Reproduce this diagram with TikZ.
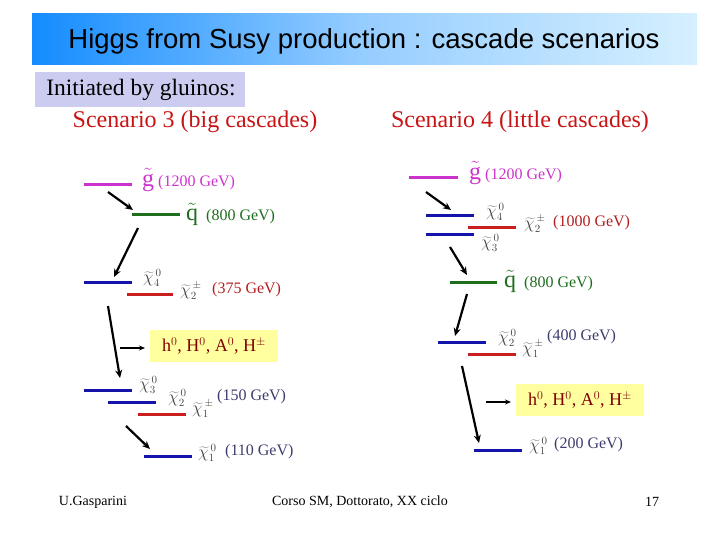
\documentclass[tikz,border=0pt]{standalone}
\usepackage{fontspec}
\setmainfont{Liberation Serif}
\newfontfamily\arialfont{Liberation Sans}
\usetikzlibrary{arrows.meta}
\definecolor{gmag}{RGB}{204,51,204}
\definecolor{qgreen}{RGB}{30,110,30}
\definecolor{lblue}{RGB}{20,20,170}
\definecolor{lred}{RGB}{200,30,30}
\definecolor{dred}{RGB}{180,30,30}
\definecolor{scred}{RGB}{200,20,20}
\definecolor{bgray}{RGB}{60,60,110}
\definecolor{chigray}{RGB}{70,70,70}
\definecolor{higgsbox}{RGB}{255,255,160}
\definecolor{higgstxt}{RGB}{128,0,0}
\definecolor{lav}{RGB}{204,204,240}
\tikzset{
  lvl/.style={line width=3pt},
  arr/.style={-{Stealth[length=8pt,width=7pt]}, line width=2.2pt},
  sarr/.style={-{Stealth[length=6pt,width=5pt]}, line width=1.6pt},
  lbl/.style={anchor=west, inner sep=0pt, font=\fontsize{16}{16}\selectfont},
  chil/.style={anchor=west, inner sep=0pt, text=chigray, font=\fontsize{16}{16}\selectfont},
  higgs/.style={fill=higgsbox, text=higgstxt, inner sep=0pt, font=\fontsize{18}{18}\selectfont},
}
\newcommand{\gt}{{\fontsize{24}{24}\selectfont$\tilde{\mathrm{g}}$}}
\newcommand{\qt}{{\fontsize{24}{24}\selectfont$\tilde{\mathrm{q}}$}}
\newcommand{\chin}[1]{$\widetilde{\chi}^{\,0}_{#1}$}
\newcommand{\chic}[1]{$\widetilde{\chi}^{\,\pm}_{#1}$}
\begin{document}
\begin{tikzpicture}[x=1pt,y=-1pt]
\useasboundingbox (0,0) rectangle (720,540);
% title band
\shade[left color={rgb,255:red,20;green,140;blue,255}, right color={rgb,255:red,214;green,240;blue,255}, middle color={rgb,255:red,150;green,205;blue,255}] (32,14) rectangle (697,65);
\node (title) at (364,41) {\arialfont\fontsize{27.5}{28}\selectfont Higgs from Susy production : cascade scenarios};
% initiated box
\fill[lav] (35,72) rectangle (245,107);
\node (init) at (141,90) {\fontsize{23.5}{24}\selectfont Initiated by gluinos:};
\node[text=scred] (sc3) at (195,122) {\fontsize{24}{24}\selectfont Scenario 3 (big cascades)};
\node[text=scred] (sc4) at (520,122) {\fontsize{24}{24}\selectfont Scenario 4 (little cascades)};

% ---------------- Left: scenario 3
\draw[lvl,gmag] (84,185) -- (132,185);
\node[lbl,text=gmag] (lg) at (142,180) {\gt\ (1200 GeV)};
\draw[lvl,qgreen] (132,215) -- (180,215);
\node[lbl,text=qgreen] (lq) at (186,214) {\qt\ \ (800 GeV)};
\draw[lvl,lblue] (84,282) -- (132,282);
\draw[lvl,lred] (127,294) -- (173,294);
\node[chil] (lc4) at (143,278) {\chin4};
\node[chil] (lcc2) at (180,291) {\chic2};
\node[lbl,text=dred] (l375) at (212,290) {(375 GeV)};
\node[higgs, minimum width=128pt, minimum height=32pt] (lh) at (214,346) {h$^0$, H$^0$, A$^0$, H$^\pm$\hspace{8pt}};
\draw[lvl,lblue] (84,390) -- (132,390);
\draw[lvl,lblue] (108,402) -- (156,402);
\draw[lvl,lred] (138,414) -- (186,414);
\node[chil] (lc3) at (139,385) {\chin3};
\node[chil] (lc2) at (168,398) {\chin2};
\node[chil] (lcc1) at (192,409) {\chic1};
\node[lbl,text=bgray] (l150) at (217,397) {(150 GeV)};
\draw[lvl,lblue] (144,456) -- (192,456);
\node[chil] (lc1) at (198,453) {\chin1};
\node[lbl,text=bgray] (l110) at (225,452) {(110 GeV)};
% left arrows
\coordinate (la1s) at (108,192); \coordinate (la1e) at (133,210);
\coordinate (la2s) at (138,228); \coordinate (la2e) at (114,277);
\coordinate (la3s) at (108,306); \coordinate (la3e) at (120,378);
\coordinate (la4s) at (120,348); \coordinate (la4e) at (145,348);
\coordinate (la5s) at (126,426); \coordinate (la5e) at (150,449);
\draw[arr] (la1s) -- (la1e);
\draw[arr] (la2s) -- (la2e);
\draw[arr] (la3s) -- (la3e);
\draw[sarr] (la4s) -- (la4e);
\draw[arr] (la5s) -- (la5e);

% ---------------- Right: scenario 4
\draw[lvl,gmag] (409,178) -- (458,178);
\node[lbl,text=gmag] (rg) at (469,173) {\gt\ (1200 GeV)};
\draw[lvl,lblue] (426,216) -- (474,216);
\draw[lvl,lblue] (426,234) -- (474,234);
\draw[lvl,lred] (468,228) -- (516,228);
\node[chil] (rc4) at (486,212) {\chin4};
\node[chil] (rc3) at (481,243) {\chin3};
\node[chil] (rcc2) at (524,224) {\chic2};
\node[lbl,text=dred] (r1000) at (553,223) {(1000 GeV)};
\draw[lvl,qgreen] (450,282) -- (497,282);
\node[lbl,text=qgreen] (rq) at (504,281) {\qt\ \ (800 GeV)};
\draw[lvl,lblue] (438,342) -- (486,342);
\draw[lvl,lred] (468,354) -- (516,354);
\node[chil] (rc2) at (498,338) {\chin2};
\node[chil] (rcc1) at (522,349) {\chic1};
\node[lbl,text=bgray] (r400) at (547,337) {(400 GeV)};
\node[higgs, minimum width=128pt, minimum height=32pt] (rh) at (580,400) {h$^0$, H$^0$, A$^0$, H$^\pm$\hspace{8pt}};
\draw[lvl,lblue] (474,450) -- (522,450);
\node[chil] (rc1) at (529,446) {\chin1};
\node[lbl,text=bgray] (r200) at (554,445) {(200 GeV)};
% right arrows
\coordinate (ra1s) at (426,192); \coordinate (ra1e) at (451,210);
\coordinate (ra2s) at (450,247); \coordinate (ra2e) at (467,275);
\coordinate (ra3s) at (467,294); \coordinate (ra3e) at (455,336);
\coordinate (ra4s) at (462,366); \coordinate (ra4e) at (479,443);
\coordinate (ra5s) at (486,402); \coordinate (ra5e) at (511,402);
\draw[arr] (ra1s) -- (ra1e);
\draw[arr] (ra2s) -- (ra2e);
\draw[arr] (ra3s) -- (ra3e);
\draw[arr] (ra4s) -- (ra4e);
\draw[sarr] (ra5s) -- (ra5e);

% footer
\node (f1) at (93,502) {\fontsize{14}{14}\selectfont U.Gasparini};
\node (f2) at (360,502) {\fontsize{14}{14}\selectfont Corso SM, Dottorato, XX ciclo};
\node (f3) at (652,502) {\fontsize{14}{14}\selectfont 17};
\end{tikzpicture}
\end{document}
